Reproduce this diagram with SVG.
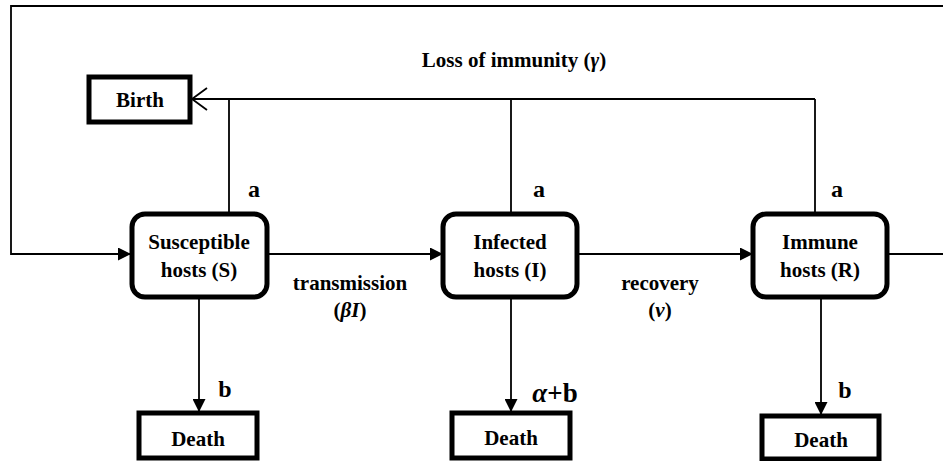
<svg xmlns="http://www.w3.org/2000/svg" width="943" height="461" viewBox="0 0 943 461">
<style>
text{font-family:"Liberation Serif","Times New Roman",serif;font-weight:bold;fill:#000;text-anchor:middle}
.node{font-size:21px}
.lbl{font-size:21px}
.big{font-size:24px}
.it{font-style:italic}
.rbox{fill:#fff;stroke:#000;stroke-width:5}
.sbox{fill:#fff;stroke:#000;stroke-width:5}
.ln{fill:none;stroke:#000;stroke-width:1.8}
</style>
<defs>
<marker id="arr" viewBox="0 0 13 13" refX="13" refY="6.5" markerWidth="13" markerHeight="13" orient="auto" markerUnits="userSpaceOnUse">
<path d="M0,0 L13,6.5 L0,13 z" fill="#000"/>
</marker>
</defs>
<g id="connectors">
<path class="ln" d="M943 6 H11 V254 H131" marker-end="url(#arr)"/>
<path class="ln" d="M267 254 H443" marker-end="url(#arr)"/>
<path class="ln" d="M577 254 H753" marker-end="url(#arr)"/>
<path class="ln" d="M887 254 H943"/>
<path class="ln" d="M815 99 H192"/>
<path class="ln" d="M207 88 L192 99 L207 110"/>
<path class="ln" d="M229 213 V99"/>
<path class="ln" d="M511 213 V99"/>
<path class="ln" d="M815 213 V99"/>
<path class="ln" d="M199 297 V412" marker-end="url(#arr)"/>
<path class="ln" d="M511 297 V412" marker-end="url(#arr)"/>
<path class="ln" d="M821 297 V415" marker-end="url(#arr)"/>
<text class="lbl" x="514" y="67">Loss of immunity (<tspan class="it">γ</tspan>)</text>
<text class="lbl" x="350" y="290">transmission</text>
<text class="lbl" x="350" y="317">(<tspan class="it">βI</tspan>)</text>
<text class="lbl" x="660" y="290">recovery</text>
<text class="lbl" x="660" y="317">(<tspan class="it">ν</tspan>)</text>
<text class="big" x="254" y="197">a</text>
<text class="big" x="539" y="197">a</text>
<text class="big" x="837" y="197">a</text>
<text class="big" x="225" y="397">b</text>
<text class="big" x="845" y="398">b</text>
<text class="big" x="555" y="402" style="font-size:27px"><tspan class="it">α</tspan>+b</text>
</g>
<g id="birth">
<rect class="sbox" x="89" y="77" width="101" height="45"/>
<text class="node" x="140" y="107">Birth</text>
</g>
<g id="susceptible">
<rect class="rbox" x="132" y="214" width="135" height="83" rx="13"/>
<text class="node" x="199" y="249">Susceptible</text>
<text class="node" x="199" y="277">hosts (S)</text>
</g>
<g id="infected">
<rect class="rbox" x="443" y="214" width="134" height="83" rx="13"/>
<text class="node" x="510" y="249">Infected</text>
<text class="node" x="510" y="277">hosts (I)</text>
</g>
<g id="immune">
<rect class="rbox" x="753" y="214" width="134" height="83" rx="13"/>
<text class="node" x="820" y="249">Immune</text>
<text class="node" x="820" y="277">hosts (R)</text>
</g>
<g id="death-s">
<rect class="sbox" x="139" y="413" width="118" height="45"/>
<text class="node" x="198" y="446">Death</text>
</g>
<g id="death-i">
<rect class="sbox" x="452" y="413" width="118" height="45"/>
<text class="node" x="511" y="445">Death</text>
</g>
<g id="death-r">
<rect class="sbox" x="762" y="416" width="117" height="43"/>
<text class="node" x="821" y="447">Death</text>
</g>
</svg>
